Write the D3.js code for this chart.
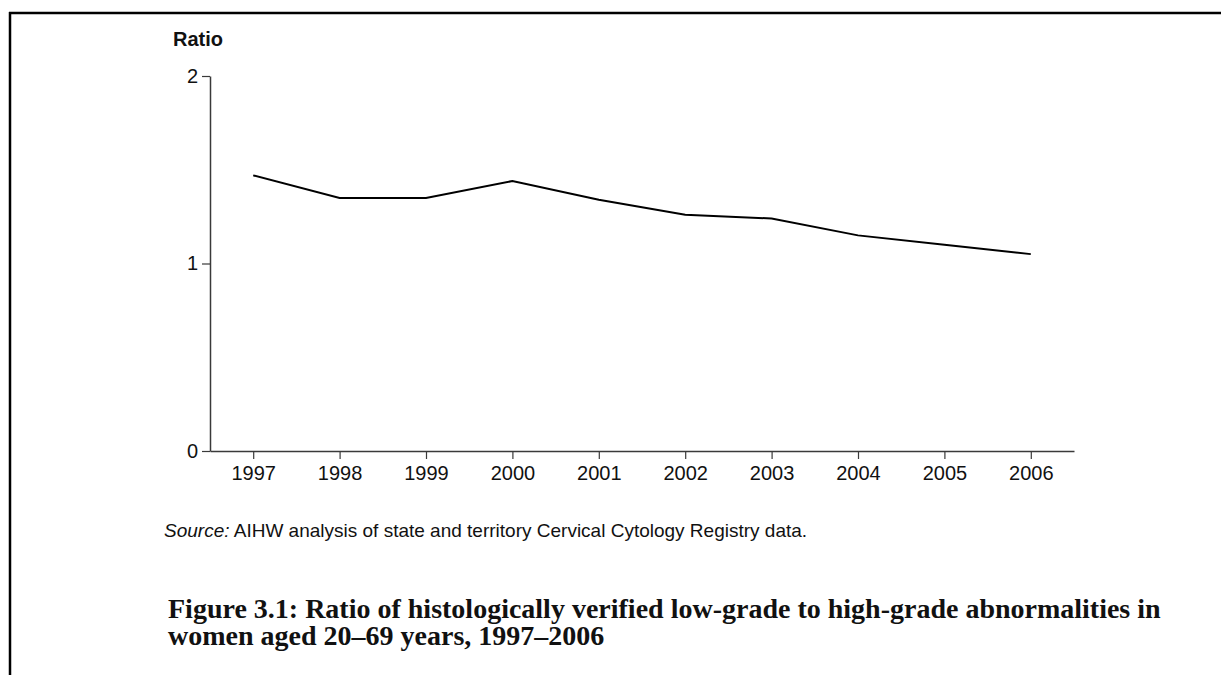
<!DOCTYPE html>
<html>
<head>
<meta charset="utf-8">
<script src="https://cdn.jsdelivr.net/npm/d3@7"></script>
<style>
  body { margin: 0; background: #fff; }
  svg { display: block; }
</style>
</head>
<body>
<svg width="1221" height="675"></svg>
<script>
// values
const years = ['1997', '1998', '1999', '2000', '2001', '2002', '2003', '2004', '2005', '2006'];
const ratio = [1.47, 1.35, 1.35, 1.44, 1.34, 1.26, 1.24, 1.15, 1.10, 1.05];
const yTicks = [0, 1, 2];

const titleLines = [
  'Figure 3.1: Ratio of histologically verified low-grade to high-grade abnormalities in',
  'women aged 20\u201369 years, 1997\u20132006'
];

const svg = d3.select('svg');
const axisColor = '#3a3a3a';
const sans = '"Liberation Sans", Arial, sans-serif';

// page frame (top and left rules)
svg.append('line')
  .attr('x1', 9).attr('x2', 1221).attr('y1', 13).attr('y2', 13)
  .attr('stroke', '#000').attr('stroke-width', 2.5);
svg.append('line')
  .attr('x1', 10).attr('x2', 10).attr('y1', 12).attr('y2', 675)
  .attr('stroke', '#000').attr('stroke-width', 2.5);

const x = d3.scalePoint()
  .domain(years)
  .range([210, 1074])
  .padding(0.5);

const y = d3.scaleLinear()
  .domain([0, 2])
  .range([451, 76]);

// x axis
const xAxis = svg.append('g')
  .attr('transform', `translate(0,${y(0)})`)
  .call(d3.axisBottom(x).tickSize(8).tickPadding(7).tickSizeOuter(0));
xAxis.select('.domain').attr('stroke', axisColor).attr('stroke-width', 1.5);
xAxis.selectAll('.tick line').attr('stroke', axisColor).attr('stroke-width', 1.2);
xAxis.selectAll('.tick text')
  .attr('fill', '#111')
  .style('font-family', sans)
  .style('font-size', '20px');

// y axis
const yAxis = svg.append('g')
  .attr('transform', `translate(210,0)`)
  .call(d3.axisLeft(y).tickValues(yTicks).tickFormat(d3.format('d'))
    .tickSize(8).tickPadding(4).tickSizeOuter(0));
yAxis.select('.domain').attr('stroke', axisColor).attr('stroke-width', 1.5);
yAxis.selectAll('.tick line').attr('stroke', axisColor).attr('stroke-width', 1.2);
yAxis.selectAll('.tick text')
  .attr('fill', '#111')
  .style('font-family', sans)
  .style('font-size', '20px');

svg.append('text')
  .attr('x', 173).attr('y', 46)
  .attr('fill', '#111')
  .style('font-family', sans)
  .style('font-weight', 'bold')
  .style('font-size', '20px')
  .text('Ratio');

// data line
const line = d3.line()
  .x((d, i) => x(years[i]))
  .y(d => y(d));

svg.append('path')
  .datum(ratio)
  .attr('d', line)
  .attr('fill', 'none')
  .attr('stroke', '#000')
  .attr('stroke-width', 2);

// source note
const src = svg.append('text')
  .attr('x', 164).attr('y', 537)
  .attr('fill', '#111')
  .style('font-family', sans)
  .style('font-size', '19px');
src.append('tspan').style('font-style', 'italic').text('Source:');
src.append('tspan').text(' AIHW analysis of state and territory Cervical Cytology Registry data.');

// figure title
svg.append('g')
  .selectAll('text')
  .data(titleLines)
  .join('text')
  .attr('x', 168)
  .attr('y', (d, i) => 618 + i * 27)
  .attr('fill', '#111')
  .style('font-family', '"Palatino Linotype", "Book Antiqua", Palatino, "Liberation Serif", serif')
  .style('font-weight', 'bold')
  .style('font-size', '28px')
  .text(d => d);
</script>
</body>
</html>
